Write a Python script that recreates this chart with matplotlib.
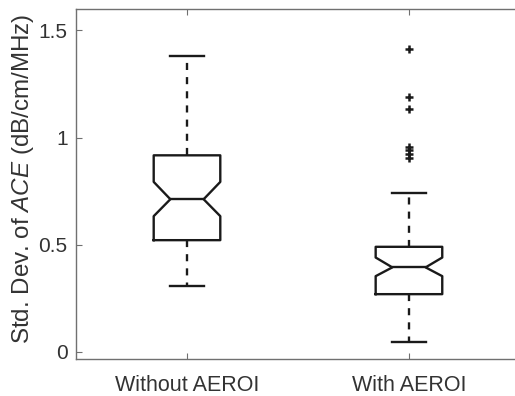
"""
Notched box plot: std. dev. of ACE without and with AEROI
"""

import numpy             as np
from matplotlib          import pyplot as plt

# INPUT -----------------------------------------------------------
labels   = ['Without AEROI', 'With AEROI']
med      = [0.712, 0.394]
q1       = [0.521, 0.269]
q3       = [0.917, 0.490]
cilo     = [0.633, 0.353]
cihi     = [0.793, 0.440]
whislo   = [0.306, 0.048]
whishi   = [1.379, 0.739]
fliers   = [[], [1.415, 1.189, 1.132, 0.958, 0.943, 0.925, 0.903]]
# -----------------------------------------------------------------

plt.rcParams['font.family']       = 'Liberation Sans'
plt.rcParams['mathtext.fontset']  = 'custom'
plt.rcParams['mathtext.rm']       = 'Liberation Sans'
plt.rcParams['mathtext.it']       = 'Liberation Sans:italic'

stats = []
for i in range(0,len(labels)):
    stats.append(dict(med=med[i],q1=q1[i],q3=q3[i],cilo=cilo[i],cihi=cihi[i],
                      whislo=whislo[i],whishi=whishi[i],fliers=np.array(fliers[i]),
                      label=labels[i]))

spinec   = '#707070'
textc    = '#333333'
fig      = plt.figure(figsize=(5.15,3.96),dpi=100)
ax       = fig.add_axes([0.1476,0.0927,0.862,0.8846])

ax.bxp(stats,positions=[1,2],widths=0.3,shownotches=True,
       boxprops=dict(color='#1a1a1a',linewidth=1.7),
       medianprops=dict(color='#1a1a1a',linewidth=1.7),
       whiskerprops=dict(color='#1a1a1a',linewidth=1.7,linestyle=(0,(3,3))),
       capprops=dict(color='#1a1a1a',linewidth=1.7),
       flierprops=dict(marker='+',markeredgecolor='#1a1a1a',markersize=5.5,markeredgewidth=1.8))

ax.set_xlim([0.5,2.5])
ax.set_ylim([-0.035,1.6])
ax.set_yticks([0,0.5,1,1.5])
ax.set_yticklabels(['0','0.5','1','1.5'])
ax.tick_params(axis='both',direction='in',length=4,width=0.8,color=spinec,labelcolor=textc)
ax.tick_params(axis='y',labelsize=15,pad=6)
ax.tick_params(axis='x',labelsize=15.5,pad=11,top=True)
ax.set_ylabel(r'Std. Dev. of $\mathit{ACE}$ (dB/cm/MHz)',fontsize=17.4,color=textc)
ax.yaxis.set_label_coords(-0.091,0.516)
for side in ['left','bottom','top']:
    ax.spines[side].set_color(spinec)
    ax.spines[side].set_linewidth(1.0)
ax.spines['right'].set_visible(False)

plt.savefig('out.png',dpi=100)
